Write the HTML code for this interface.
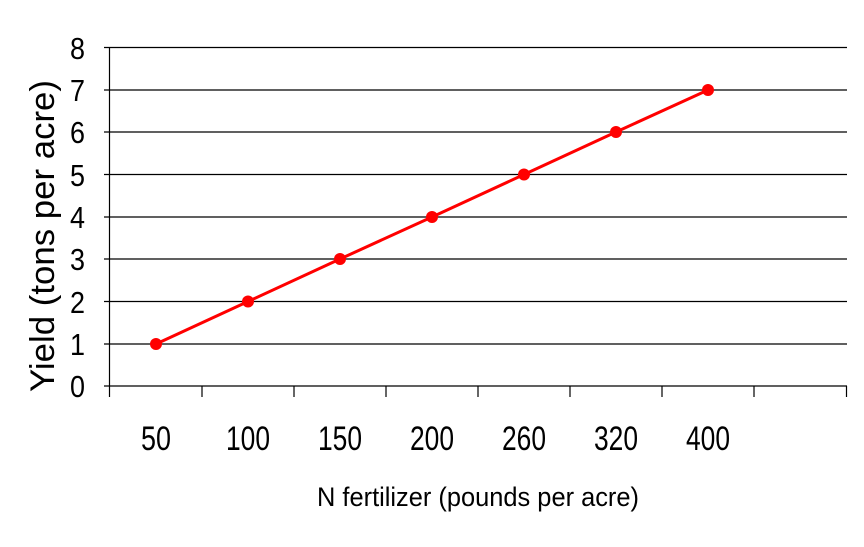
<!DOCTYPE html>
<html><head><style>body{margin:0;background:#fff}</style></head><body>
<svg width="864" height="542" xmlns="http://www.w3.org/2000/svg" font-family="Liberation Sans, Arial, sans-serif">
<rect width="864" height="542" fill="#fff"/>
<g stroke="#000" stroke-width="1.2">
<line x1="104" y1="47.5" x2="847" y2="47.5"/>
<line x1="104" y1="90" x2="847" y2="90"/>
<line x1="104" y1="132" x2="847" y2="132"/>
<line x1="104" y1="174.5" x2="847" y2="174.5"/>
<line x1="104" y1="217" x2="847" y2="217"/>
<line x1="104" y1="259" x2="847" y2="259"/>
<line x1="104" y1="301.5" x2="847" y2="301.5"/>
<line x1="104" y1="344" x2="847" y2="344"/>
<line x1="104" y1="386" x2="847" y2="386"/>
<line x1="109.5" y1="47.5" x2="109.5" y2="397"/>
<line x1="202" y1="386" x2="202" y2="397"/>
<line x1="294" y1="386" x2="294" y2="397"/>
<line x1="386" y1="386" x2="386" y2="397"/>
<line x1="478" y1="386" x2="478" y2="397"/>
<line x1="570" y1="386" x2="570" y2="397"/>
<line x1="662" y1="386" x2="662" y2="397"/>
<line x1="754" y1="386" x2="754" y2="397"/>
<line x1="846.5" y1="386" x2="846.5" y2="397"/>
</g>
<g font-size="31" text-anchor="end" fill="#000" lengthAdjust="spacingAndGlyphs">
<text x="85" y="397" textLength="15" lengthAdjust="spacingAndGlyphs">0</text><text x="85" y="355" textLength="15" lengthAdjust="spacingAndGlyphs">1</text><text x="85" y="313" textLength="15" lengthAdjust="spacingAndGlyphs">2</text><text x="85" y="270" textLength="15" lengthAdjust="spacingAndGlyphs">3</text><text x="85" y="228" textLength="15" lengthAdjust="spacingAndGlyphs">4</text><text x="85" y="186" textLength="15" lengthAdjust="spacingAndGlyphs">5</text><text x="85" y="143" textLength="15" lengthAdjust="spacingAndGlyphs">6</text><text x="85" y="101" textLength="15" lengthAdjust="spacingAndGlyphs">7</text><text x="85" y="59" textLength="15" lengthAdjust="spacingAndGlyphs">8</text>
</g>
<g font-size="34" text-anchor="middle" fill="#000">
<text x="156" y="450" textLength="30" lengthAdjust="spacingAndGlyphs">50</text>
<text x="248" y="450" textLength="44" lengthAdjust="spacingAndGlyphs">100</text>
<text x="340" y="450" textLength="44" lengthAdjust="spacingAndGlyphs">150</text>
<text x="432" y="450" textLength="44" lengthAdjust="spacingAndGlyphs">200</text>
<text x="524" y="450" textLength="44" lengthAdjust="spacingAndGlyphs">260</text>
<text x="616" y="450" textLength="44" lengthAdjust="spacingAndGlyphs">320</text>
<text x="708" y="450" textLength="44" lengthAdjust="spacingAndGlyphs">400</text>
</g>
<text x="478" y="506" font-size="27" text-anchor="middle" textLength="322" lengthAdjust="spacingAndGlyphs">N fertilizer (pounds per acre)</text>
<text transform="translate(54,236) rotate(-90)" font-size="34" text-anchor="middle" textLength="312" lengthAdjust="spacingAndGlyphs">Yield (tons per acre)</text>
<polyline points="156,344 248,301.5 340,259 432,217 524,174.5 616,132 708,90" fill="none" stroke="#f00" stroke-width="3"/>
<g fill="#f00">
<circle cx="156" cy="344" r="6"/><circle cx="248" cy="301.5" r="6"/><circle cx="340" cy="259" r="6"/><circle cx="432" cy="217" r="6"/><circle cx="524" cy="174.5" r="6"/><circle cx="616" cy="132" r="6"/><circle cx="708" cy="90" r="6"/>
</g>
</svg>
</body></html>
